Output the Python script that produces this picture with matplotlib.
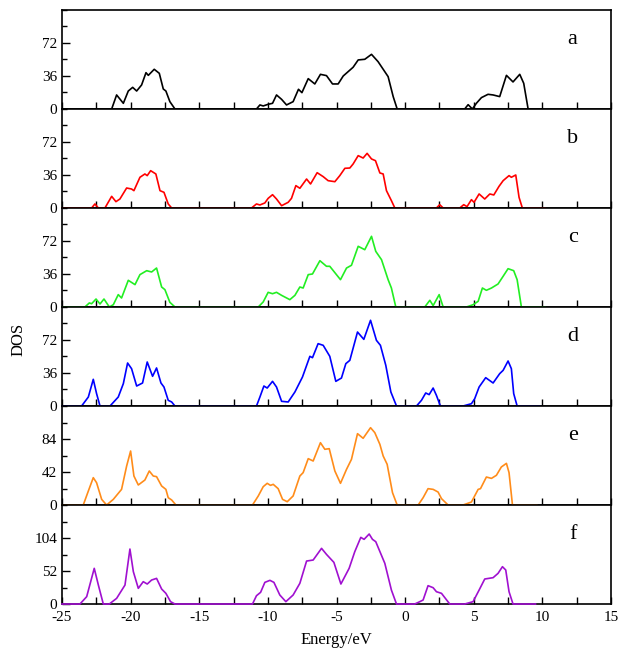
import matplotlib
matplotlib.use("Agg")
import matplotlib.pyplot as plt
from matplotlib.ticker import MultipleLocator

plt.rcParams['font.family'] = ['Liberation Serif', 'DejaVu Serif']
plt.rcParams['axes.unicode_minus'] = False

# energy (eV) / DOS pairs
e_a = [-25, -21.38, -21.02, -20.53, -20.17, -19.85, -19.56, -19.2, -18.88, -18.71, -18.28, -17.91, -17.62, -17.43,
       -17.14, -16.77, -10.83, -10.58, -10.34, -9.98, -9.66, -9.37, -9.0, -8.64, -8.16, -7.77, -7.52, -7.06,
       -6.58, -6.17, -5.73, -5.29, -4.88, -4.51, -3.79, -3.42, -2.94, -2.45, -1.97, -1.24, -0.87, -0.58,
       4.34, 4.59, 4.9, 5.19, 5.56, 6.04, 6.41, 6.89, 7.38, 7.86, 8.35, 8.64, 8.96, 10.0]
dos_a = [0, 0, 15.3, 6.2, 19.6, 23.6, 19.6, 26.2, 39.6, 36.7, 43.3, 38.9, 21.8, 19.6,
         8, 0, 0, 4.4, 3.3, 5.1, 6.2, 15.3, 10.5, 4.4, 8, 21.5, 17.8, 33.1,
         27.3, 37.8, 36.4, 27.3, 27.3, 36, 45.5, 53.5, 54.2, 59.6, 51.6, 35.3, 13.5, 0,
         0, 4.7, 0, 6.2, 12.4, 16, 15.3, 13.5, 36.7, 29.5, 37.8, 28, 0, 0]

e_b = [-25, -22.84, -22.6, -22.35, -21.87, -21.38, -21.07, -20.78, -20.29, -19.93, -19.76, -19.32, -18.96,
       -18.79, -18.54, -18.16, -17.86, -17.57, -17.26, -17.01, -11.19, -10.83, -10.58, -10.22, -9.98, -9.66,
       -9.37, -9.0, -8.52, -8.28, -7.96, -7.67, -7.18, -6.89, -6.41, -5.97, -5.61, -5.12, -4.76, -4.39,
       -4.03, -3.79, -3.42, -3.06, -2.77, -2.45, -2.16, -1.84, -1.6, -1.36, -1.0, -0.75,
       2.28, 2.52, 2.77, 3.98, 4.27, 4.51, 4.83, 5.02, 5.39, 5.8, 6.17, 6.46, 6.84, 7.14, 7.57, 7.74,
       8.06, 8.3, 8.54, 10.2]
dos_b = [0, 0, 4.4, 0, 0, 12.7, 6.9, 9.8, 21.8, 20.7, 18.9, 33.5, 37.1,
         35.3, 40.7, 37.1, 18.9, 17.1, 4.4, 0, 0, 4.4, 3.3, 5.5, 10.5, 14.5,
         9.8, 2.5, 6.2, 10.5, 24.4, 21.5, 31.6, 26.2, 38.5, 34.2, 29.8, 28.7, 35.3, 43.3,
         43.6, 48, 57.1, 54.5, 59.6, 53.5, 51.6, 38.2, 37.1, 18.9, 8, 0,
         0, 3.6, 0, 0, 3.6, 1.5, 9.1, 6.2, 15.3, 9.8, 15.3, 14.2, 23.6, 29.8, 35.3, 33.5,
         36, 11.6, 0, 0]

e_c = [-25, -23.33, -23.01, -22.84, -22.52, -22.23, -21.94, -21.55, -21.26, -20.9, -20.66, -20.17, -19.68,
       -19.32, -18.83, -18.47, -18.11, -17.74, -17.5, -17.14, -16.77, -10.7, -10.34, -9.98, -9.66, -9.37,
       -9.0, -8.4, -8.03, -7.67, -7.43, -7.06, -6.75, -6.21, -5.73, -5.49, -4.71, -4.27, -3.91, -3.42,
       -2.94, -2.45, -2.14, -1.72, -1.24, -1.0, -0.68, 1.43, 1.8, 2.04, 2.48, 2.77, 4.47, 4.95, 5.32,
       5.63, 5.92, 6.29, 6.77, 7.14, 7.5, 7.91, 8.16, 8.47, 10.2]
dos_c = [0, 0, 4.4, 3.6, 8.7, 3.3, 8.7, 0, 2.5, 13.5, 9.8, 29.1, 24.4,
         35.3, 39.6, 38.2, 42.5, 21.8, 18.9, 5.1, 0, 0, 5.5, 16, 14.5, 16,
         12.7, 8, 12.7, 21.8, 20.7, 35.3, 36, 50.5, 44.4, 44.4, 29.8, 42.5, 45.5, 66.2,
         62.5, 77.1, 60.7, 51.6, 29.8, 20.7, 0, 0, 7.3, 1.5, 13.5, 0, 0, 2.5, 6.2,
         20.7, 18.2, 20.7, 25.1, 33.5, 41.8, 39.6, 29.8, 0, 0]

e_d = [-25, -23.57, -23.08, -22.72, -22.48, -22.23, -21.5, -20.9, -20.53, -20.22, -19.93, -19.56, -19.13,
       -18.79, -18.4, -18.11, -17.79, -17.57, -17.26, -17.01, -16.77, -10.83, -10.58, -10.29, -10.05,
       -9.66, -9.37, -9.0, -8.52, -8.03, -7.48, -6.94, -6.75, -6.34, -5.97, -5.49, -5.05, -4.64, -4.32,
       -4.03, -3.47, -3.01, -2.52, -2.09, -1.8, -1.41, -1.04, -0.63, 0.83, 1.19, 1.5, 1.75, 2.04, 2.28,
       2.57, 4.22, 4.83, 5.07, 5.39, 5.87, 6.41, 6.89, 7.14, 7.5, 7.74, 7.91, 8.16, 9.8]
dos_d = [0, 0, 9.8, 29.1, 13.5, 0, 0, 9.8, 24.4, 46.9, 40.7, 21.8, 25.1,
         48, 32.4, 41.5, 25.1, 20.7, 6.2, 4.4, 0, 0, 9.8, 21.8, 19.6,
         26.9, 20.7, 5.1, 4.4, 15.3, 31.6, 54.2, 52.7, 68, 66.2, 54.2, 26.9, 30.5, 46.2,
         49.8, 80.7, 72.7, 93.5, 71.6, 66.2, 44.4, 15.3, 0, 0, 6.2, 14.2, 12.4, 19.6, 11.6,
         0, 0, 2.5, 8, 20.7, 30.9, 25.1, 35.3, 38.9, 49.1, 40.7, 13.5, 0, 0]

e_e = [-25, -23.45, -23.08, -22.72, -22.48, -22.11, -21.75, -21.26, -20.66, -20.29, -20.0, -19.76, -19.44,
       -18.96, -18.64, -18.35, -18.11, -17.74, -17.43, -17.26, -17.01, -16.7, -11.12, -10.7, -10.34,
       -10.05, -9.81, -9.61, -9.25, -8.93, -8.59, -8.16, -7.67, -7.43, -7.06, -6.7, -6.17, -5.85, -5.53,
       -5.12, -4.71, -4.27, -3.91, -3.47, -3.06, -2.52, -2.21, -1.84, -1.6, -1.31, -0.92, -0.58,
       0.95, 1.31, 1.67, 2.04, 2.4, 2.65, 3.13, 4.22, 4.83, 5.32, 5.49, 5.92, 6.29, 6.65, 7.01, 7.38,
       7.57, 7.82, 9.6]
dos_e = [0, 0, 17.8, 34.8, 28.4, 7.2, 0, 7.2, 19.9, 49.6, 68.7, 36.9, 25.5,
         31.8, 43.3, 36.9, 36.1, 24.2, 19.9, 9.3, 6.4, 0, 0, 11.5, 23.3,
         27.6, 25, 26.3, 20.8, 7.2, 4.2, 11.5, 36.9, 41.2, 59, 56, 79.3, 70.9, 71.7,
         43.3, 27.6, 45.4, 58.1, 90.8, 84.9, 98.4, 92.1, 77.2, 62.4, 51.8, 15.7, 0,
         0, 9.3, 20.8, 19.9, 16.5, 8.1, 0, 0, 3.8, 19.9, 20.8, 35.6, 33.9, 37.8, 48.4, 53,
         41.2, 0, 0]

e_f = [-25, -23.69, -23.2, -22.65, -22.35, -21.99, -21.55, -21.02, -20.41, -20.05, -19.8, -19.44, -19.08,
       -18.79, -18.47, -18.11, -17.74, -17.43, -17.09, -16.77, -11.12, -10.83, -10.53, -10.22, -9.85,
       -9.56, -9.13, -8.69, -8.16, -7.67, -7.18, -6.7, -6.09, -5.73, -5.19, -4.68, -4.08, -3.67, -3.23,
       -2.99, -2.62, -2.38, -2.14, -1.48, -1.0, -0.63, 0.7, 1.07, 1.31, 1.67, 2.04, 2.28, 2.65, 3.25,
       4.34, 4.95, 5.39, 5.8, 6.41, 6.77, 7.09, 7.33, 7.57, 7.86, 9.5]
dos_f = [0, 0, 11.6, 56.2, 29.9, 0, 0, 8.9, 29.9, 86.6, 50.9, 24.7, 35.2,
         31.5, 37.8, 40.4, 23.6, 16.8, 3.7, 0, 0, 13.1, 18.4, 34.1, 37.3,
         34.1, 14.2, 3.7, 14.2, 32.6, 67.7, 69.3, 87.7, 78.2, 65.6, 31.5, 56.2, 82.4, 105,
         101.9, 110.3, 101.9, 98.2, 64.1, 22, 0, 0, 3.7, 6.3, 28.9, 25.7, 19.4, 16.8, 0,
         0, 3.7, 22, 39.4, 41.5, 48.3, 58.8, 53.6, 19.4, 0, 0]

labels = ['a', 'b', 'c', 'd', 'e', 'f']
colors = ['black', '#ff0000', '#22ee22', '#0000ff', '#ff8c1a', '#a010d0']
ymax = [108, 108, 108, 108, 126, 156]
ystep = [36, 36, 36, 36, 42, 52]
energies = [e_a, e_b, e_c, e_d, e_e, e_f]
dos = [dos_a, dos_b, dos_c, dos_d, dos_e, dos_f]

fig, axes = plt.subplots(6, 1, figsize=(6.18, 6.52), dpi=100, sharex=True)
fig.subplots_adjust(left=0.1003, right=0.9887, top=0.9847, bottom=0.0736, hspace=0)

for i, ax in enumerate(axes):
    ax.plot(energies[i], dos[i], color=colors[i], lw=1.2, zorder=3, clip_on=False)
    ax.set_xlim(-25, 15)
    ax.set_ylim(0, ymax[i])
    ax.yaxis.set_major_locator(MultipleLocator(ystep[i]))
    ax.yaxis.set_minor_locator(MultipleLocator(ystep[i] / 2))
    ax.xaxis.set_major_locator(MultipleLocator(5))
    ax.xaxis.set_minor_locator(MultipleLocator(2.5))
    ax.set_yticks([0, ystep[i], 2 * ystep[i]])
    ax.tick_params(axis='y', which='major', direction='in', length=6, width=1, labelsize=11)
    ax.tick_params(axis='y', which='minor', direction='in', length=3.5, width=1)
    ax.tick_params(axis='x', which='both', direction='in', length=5, width=1, labelsize=11, pad=5)
    for s in ax.spines.values():
        s.set_linewidth(1.2)
    ax.text(0.93, 0.7, labels[i], transform=ax.transAxes, fontsize=16, ha='center', va='center')

axes[-1].set_xlabel('Energy/eV', fontsize=12, labelpad=6)
fig.text(0.03, 0.48, 'DOS', rotation=90, fontsize=12, ha='center', va='center')

plt.savefig('out.png', dpi=100)
